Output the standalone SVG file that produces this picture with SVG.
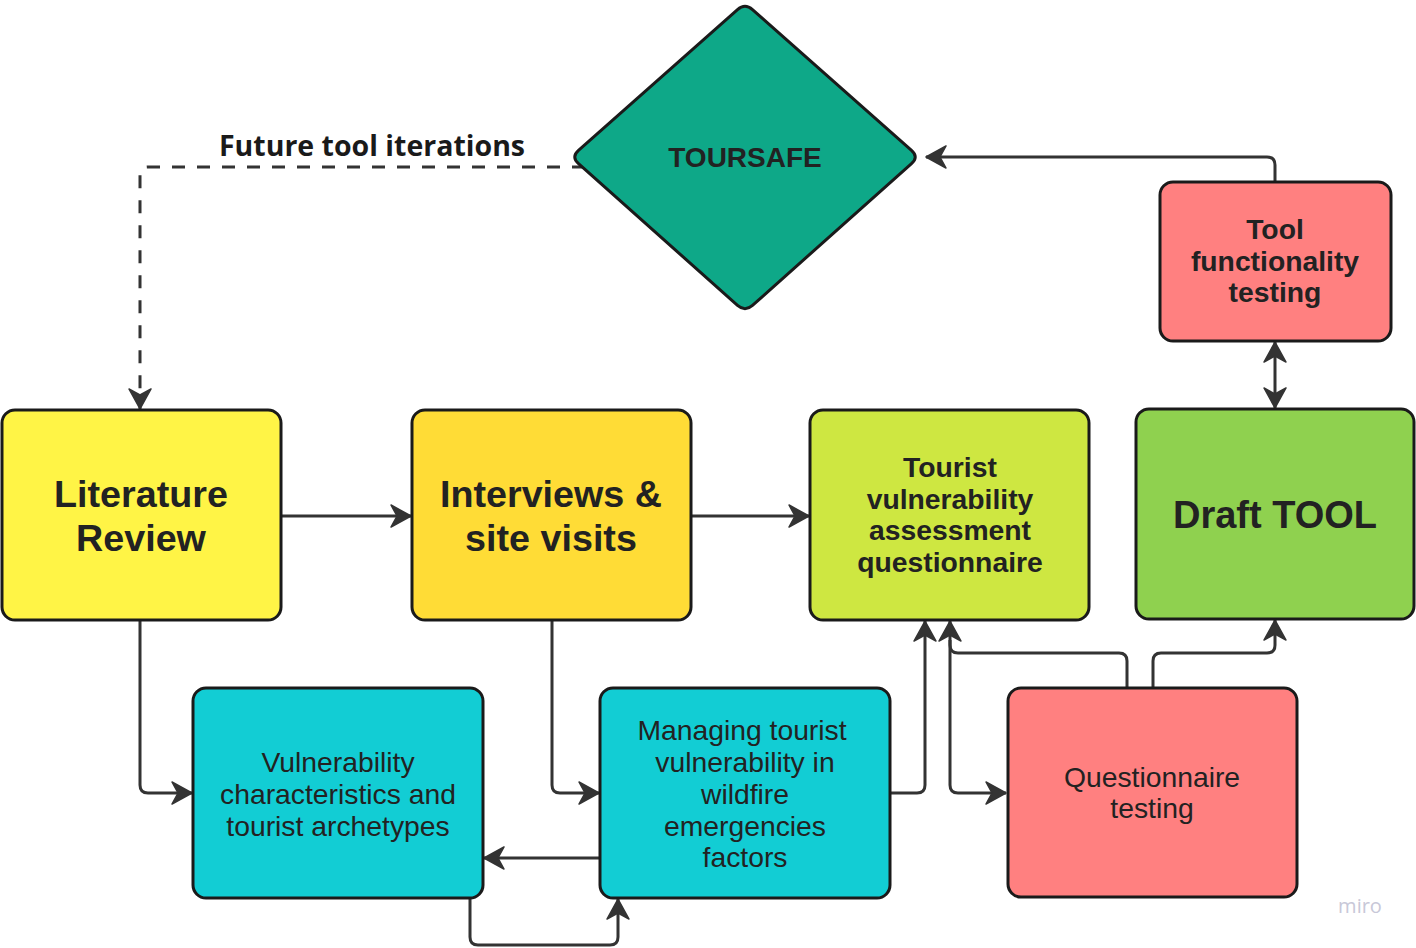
<svg xmlns="http://www.w3.org/2000/svg" width="1416" height="948" viewBox="0 0 1416 948">
<defs>
<style>
.node{stroke:#1a1a1a;stroke-width:3}
.conn{fill:none;stroke:#333;stroke-width:3}
.t{font-family:"Liberation Sans",Arial,Helvetica,sans-serif;fill:#222;text-anchor:middle}
.b{font-weight:bold}
.big{font-size:37.7px}
.mid{font-size:28.3px}
</style>
<marker id="arr" viewBox="-22 -12 24 24" refX="0" refY="0" markerWidth="24" markerHeight="24" markerUnits="userSpaceOnUse" orient="auto-start-reverse">
<path d="M0,0 L-20,-11 L-14,0 L-20,11 Z" fill="#333" stroke="#333" stroke-width="1.5" stroke-linejoin="round"/>
</marker>
</defs>
<rect width="1416" height="948" fill="#fff"/>

<g id="connectors">
<path class="conn" d="M585,167 H148 Q140,167 140,175 V409" stroke-dasharray="13 12" marker-end="url(#arr)"/>
<path class="conn" d="M1275,181 V165 Q1275,157 1267,157 H926" marker-end="url(#arr)"/>
<path class="conn" d="M1275,342 V408" marker-start="url(#arr)" marker-end="url(#arr)"/>
<path class="conn" d="M281,516 H411" marker-end="url(#arr)"/>
<path class="conn" d="M691,516 H809" marker-end="url(#arr)"/>
<path class="conn" d="M140,620 V785 Q140,793 148,793 H192" marker-end="url(#arr)"/>
<path class="conn" d="M552,620 V785 Q552,793 560,793 H599" marker-end="url(#arr)"/>
<path class="conn" d="M600,858 H484" marker-end="url(#arr)"/>
<path class="conn" d="M470,898 V937 Q470,945 478,945 H610 Q618,945 618,937 V899" marker-end="url(#arr)"/>
<path class="conn" d="M890,793 H917 Q925,793 925,785 V621" marker-end="url(#arr)"/>
<path class="conn" d="M1127,688 V661 Q1127,653 1119,653 H958 Q950,653 950,645 V621" marker-end="url(#arr)"/>
<path class="conn" d="M950,640 V785 Q950,793 958,793 H1006" marker-end="url(#arr)"/>
<path class="conn" d="M1153,688 V661 Q1153,653 1161,653 H1267 Q1275,653 1275,645 V620" marker-end="url(#arr)"/>
<text x="372" y="156" font-family="'Open Sans',sans-serif" font-weight="bold" font-size="28.5" fill="#1a1a1a" text-anchor="middle">Future tool iterations</text>
</g>

<g id="toursafe">
<path class="node" fill="#0ea888" d="M737.5,9.6 Q745,3 752.5,9.6 L911.5,150.4 Q919,157 911.5,163.6 L752.5,305.4 Q745,312 737.5,305.4 L578.5,163.6 Q571,157 578.5,150.4 Z"/>
<text class="t b" x="745" y="167" font-size="28" fill="#1a1a1a">TOURSAFE</text>
</g>

<g id="tool-testing">
<rect class="node" x="1160" y="182" width="231" height="159" rx="13" fill="#ff8080"/>
<text class="t b mid" x="1275" y="239">Tool</text>
<text class="t b mid" x="1275" y="271">functionality</text>
<text class="t b mid" x="1275" y="302">testing</text>
</g>

<g id="literature-review">
<rect class="node" x="2" y="410" width="279" height="210" rx="13" fill="#fff446"/>
<text class="t b big" x="141" y="507">Literature</text>
<text class="t b big" x="141" y="551">Review</text>
</g>

<g id="interviews">
<rect class="node" x="412" y="410" width="279" height="210" rx="13" fill="#ffdc36"/>
<text class="t b big" x="551" y="507">Interviews &amp;</text>
<text class="t b big" x="551" y="551">site visits</text>
</g>

<g id="questionnaire">
<rect class="node" x="810" y="410" width="279" height="210" rx="13" fill="#cee741"/>
<text class="t b mid" x="950" y="477">Tourist</text>
<text class="t b mid" x="950" y="509">vulnerability</text>
<text class="t b mid" x="950" y="540">assessment</text>
<text class="t b mid" x="950" y="572">questionnaire</text>
</g>

<g id="draft-tool">
<rect class="node" x="1136" y="409" width="278" height="210" rx="13" fill="#8fd14f"/>
<text class="t b" x="1275" y="528" font-size="38">Draft TOOL</text>
</g>

<g id="vulnerability">
<rect class="node" x="193" y="688" width="290" height="210" rx="13" fill="#12cdd4"/>
<text class="t mid" x="338" y="772">Vulnerability</text>
<text class="t mid" x="338" y="804">characteristics and</text>
<text class="t mid" x="338" y="836">tourist archetypes</text>
</g>

<g id="managing">
<rect class="node" x="600" y="688" width="290" height="210" rx="13" fill="#12cdd4"/>
<text class="t mid" x="742" y="740">Managing tourist</text>
<text class="t mid" x="745" y="772">vulnerability in</text>
<text class="t mid" x="745" y="804">wildfire</text>
<text class="t mid" x="745" y="836">emergencies</text>
<text class="t mid" x="745" y="867">factors</text>
</g>

<g id="questionnaire-testing">
<rect class="node" x="1008" y="688" width="289" height="209" rx="13" fill="#ff8080"/>
<text class="t mid" x="1152" y="787">Questionnaire</text>
<text class="t mid" x="1152" y="818">testing</text>
</g>

<text x="1360" y="913" font-family="'Open Sans',sans-serif" font-size="20" fill="#c8c8d8" text-anchor="middle">miro</text>
</svg>
